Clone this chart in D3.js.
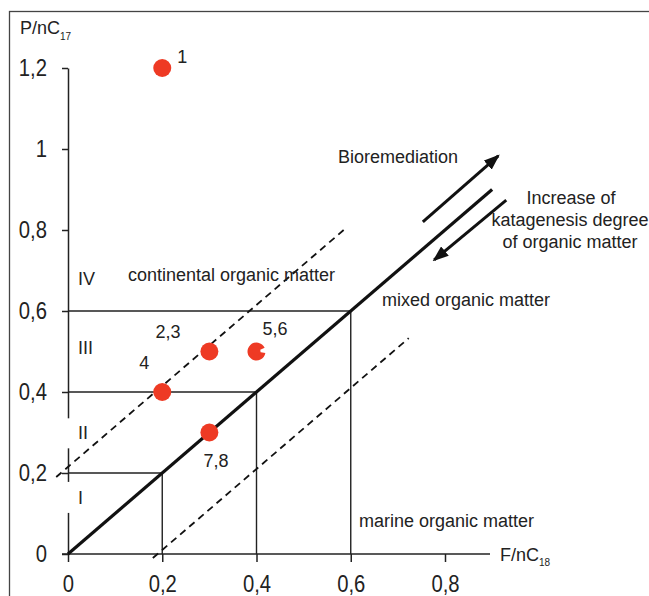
<!DOCTYPE html>
<html>
<head>
<meta charset="utf-8">
<script src="https://cdn.jsdelivr.net/npm/d3@7.9.0/dist/d3.min.js"></script>
<style>
  html, body { margin: 0; padding: 0; background: #fff; }
  svg { display: block; font-family: "Liberation Sans", Arial, sans-serif; }
  .lbl { fill: #222; font-size: 18px; }
</style>
</head>
<body>
<svg id="chart" width="649" height="596"></svg>
<script>
// samples (F/nC18 vs P/nC17)
const sampleNames = ["1", "2,3", "4", "5,6", "7,8"];
const fnc18 = [0.2, 0.3, 0.2, 0.4, 0.3];
const pnc17 = [1.2, 0.5, 0.4, 0.5, 0.3];

const xTicks = [0, 0.2, 0.4, 0.6, 0.8];
const yTicks = [0, 0.2, 0.4, 0.6, 0.8, 1, 1.2];

// region boundaries (P/nC17 = F/nC18 steps)
const boundaries = [0.2, 0.4, 0.6];
const regionNames = ["I", "II", "III", "IV"];
const regionMid = [0.138, 0.30, 0.51, 0.68];

// dashed parallel lines y = x + offset, over an x range
const dashOffsets = [0.215, -0.19];
const dashFrom = [-0.025, 0.18];
const dashTo = [0.585, 0.723];
const mainLineEnd = 0.9;

const width = 649, height = 596;
const svg = d3.select("#chart");

const x = d3.scaleLinear().domain([0, 0.8]).range([68, 445]);
const y = d3.scaleLinear().domain([0, 1.2]).range([554, 68]);

const fmt = d3.formatLocale({ decimal: ",", thousands: " ", grouping: [3], currency: ["", ""] }).format("~g");

// frame
svg.append("rect")
  .attr("x", 9.5).attr("y", 11.5)
  .attr("width", 700).attr("height", 700)
  .attr("fill", "none").attr("stroke", "#444").attr("stroke-width", 1.3);

// arrow head
svg.append("defs").append("marker")
  .attr("id", "head")
  .attr("markerUnits", "userSpaceOnUse")
  .attr("viewBox", "0 0 16 12")
  .attr("refX", 14).attr("refY", 6)
  .attr("markerWidth", 16).attr("markerHeight", 12)
  .attr("orient", "auto")
  .append("path")
  .attr("d", "M0,0 L16,6 L0,12 Z")
  .attr("fill", "#111");

// y axis
const yAxis = svg.append("g")
  .attr("transform", `translate(${x(0)},0)`)
  .call(d3.axisLeft(y).tickValues(yTicks).tickSize(6).tickSizeOuter(0).tickPadding(15).tickFormat(fmt));

// x axis
const xAxis = svg.append("g")
  .attr("transform", `translate(0,${y(0)})`)
  .call(d3.axisBottom(x).tickValues(xTicks).tickSize(8).tickSizeOuter(0).tickPadding(14).tickFormat(fmt));
xAxis.select(".domain").remove();
xAxis.append("line")
  .attr("x1", x(0) - 6).attr("x2", 490)
  .attr("stroke", "#222").attr("stroke-width", 1.5);

[yAxis, xAxis].forEach((g) => {
  g.selectAll(".domain, .tick line").attr("stroke", "#222").attr("stroke-width", 1.5);
  g.selectAll("text")
    .attr("font-family", "'Liberation Sans', Arial, sans-serif")
    .attr("font-size", 23)
    .attr("fill", "#222")
    .each(function () {
      const w = this.getComputedTextLength();
      d3.select(this).attr("textLength", w * 0.88).attr("lengthAdjust", "spacingAndGlyphs");
    });
});

// gaps in the y axis behind region labels I and II
svg.append("rect").attr("x", x(0) - 3).attr("y", y(0.335)).attr("width", 6).attr("height", 30).attr("fill", "#fff");
svg.append("rect").attr("x", x(0) - 3).attr("y", y(0.178)).attr("width", 6).attr("height", 31).attr("fill", "#fff");

// axis titles
const yTitle = svg.append("text").attr("class", "lbl").attr("x", 20).attr("y", 34).attr("font-size", 17);
yTitle.append("tspan").text("P/nC");
yTitle.append("tspan").attr("font-size", 10).attr("dy", 6).text("17");

const xTitle = svg.append("text").attr("class", "lbl").attr("x", 500).attr("y", 561).attr("font-size", 17);
xTitle.append("tspan").text("F/nC");
xTitle.append("tspan").attr("font-size", 10).attr("dy", 5).text("18");

// region boundaries
const bound = svg.append("g").attr("stroke", "#222").attr("stroke-width", 1.4).attr("fill", "none");
boundaries.forEach((v) => {
  bound.append("path")
    .attr("d", `M${x(0)},${y(v)} H${x(v)} V${y(0)}`);
});

// dashed lines
dashOffsets.forEach((off, i) => {
  svg.append("line")
    .attr("x1", x(dashFrom[i])).attr("y1", y(dashFrom[i] + off))
    .attr("x2", x(dashTo[i])).attr("y2", y(dashTo[i] + off))
    .attr("stroke", "#111").attr("stroke-width", 1.8)
    .attr("stroke-dasharray", "7,5");
});

// main 1:1 line
svg.append("line")
  .attr("x1", x(0)).attr("y1", y(0))
  .attr("x2", x(mainLineEnd)).attr("y2", y(mainLineEnd))
  .attr("stroke", "#111").attr("stroke-width", 3.2);

// arrows
svg.append("line")
  .attr("x1", x(0.753)).attr("y1", y(0.82))
  .attr("x2", x(0.913)).attr("y2", y(0.983))
  .attr("stroke", "#111").attr("stroke-width", 3)
  .attr("marker-end", "url(#head)");
svg.append("line")
  .attr("x1", x(0.93)).attr("y1", y(0.874))
  .attr("x2", x(0.777)).attr("y2", y(0.726))
  .attr("stroke", "#111").attr("stroke-width", 3)
  .attr("marker-end", "url(#head)");

// region labels
svg.append("g").selectAll("text")
  .data(regionNames)
  .join("text")
  .attr("class", "lbl")
  .attr("font-size", 17)
  .attr("x", 78)
  .attr("y", (d, i) => y(regionMid[i]))
  .attr("dy", "0.35em")
  .text((d) => d);

// area labels
svg.append("text").attr("class", "lbl").attr("x", 128).attr("y", 281).text("continental organic matter");
svg.append("text").attr("class", "lbl").attr("x", 382).attr("y", 306).text("mixed organic matter");
svg.append("text").attr("class", "lbl").attr("x", 359).attr("y", 527).text("marine organic matter");
svg.append("text").attr("class", "lbl").attr("x", 338).attr("y", 163).text("Bioremediation");
svg.append("text").attr("class", "lbl").attr("text-anchor", "middle").attr("x", 571).attr("y", 204).text("Increase of");
svg.append("text").attr("class", "lbl").attr("text-anchor", "middle").attr("x", 570).attr("y", 226).text("katagenesis degree");
svg.append("text").attr("class", "lbl").attr("text-anchor", "middle").attr("x", 570).attr("y", 248).text("of organic matter");

// points
const red = "#ee3a24";
const labelOffset = [[15, -5], [-54, -14], [-23, -23], [6, -17], [-6, 34]];
const pts = svg.append("g");
sampleNames.forEach((name, i) => {
  const cx = x(fnc18[i]), cy = y(pnc17[i]);
  if (name === "5,6") {
    // this dot has a small bite out of it
    const arc = d3.arc().innerRadius(0).outerRadius(9)
      .startAngle(Math.PI * 100 / 180).endAngle(Math.PI * 2 + Math.PI * 65 / 180);
    pts.append("path").attr("transform", `translate(${cx},${cy})`).attr("d", arc()).attr("fill", red);
    pts.append("circle").attr("cx", cx).attr("cy", cy).attr("r", 4).attr("fill", red);
  } else {
    pts.append("circle").attr("cx", cx).attr("cy", cy).attr("r", 9).attr("fill", red);
  }
  pts.append("text").attr("class", "lbl").attr("font-size", 17)
    .attr("x", cx + labelOffset[i][0]).attr("y", cy + labelOffset[i][1])
    .text(name);
});
</script>
</body>
</html>
